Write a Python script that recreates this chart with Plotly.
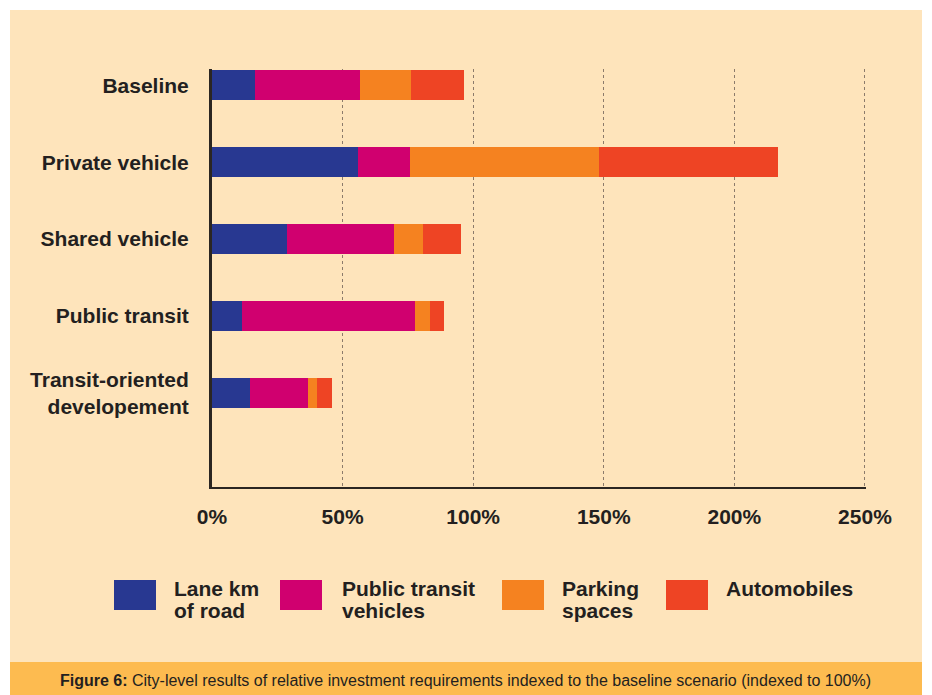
import plotly.graph_objects as go

categories = ["Baseline", "Private vehicle", "Shared vehicle", "Public transit",
              "Transit-oriented<br>developement"]
series_names = ["Lane km of road", "Public transit vehicles", "Parking spaces", "Automobiles"]
legend_lines = [["Lane km", "of road"], ["Public transit", "vehicles"],
                ["Parking", "spaces"], ["Automobiles"]]
lane_km = [16.4, 55.8, 28.7, 11.5, 14.5]
transit_vehicles = [40.1, 19.9, 40.9, 66.1, 22.2]
parking = [19.5, 72.6, 11.1, 5.7, 3.4]
automobiles = [20.3, 68.4, 14.5, 5.7, 5.7]
tick_values = [0, 50, 100, 150, 200, 250]
tick_labels = ["0%", "50%", "100%", "150%", "200%", "250%"]
caption = "<b>Figure 6:</b> City-level results of relative investment requirements indexed to the baseline scenario (indexed to 100%)"

colors = ["#283891", "#D0006F", "#F58220", "#EE4424"]
series = [lane_km, transit_vehicles, parking, automobiles]

W, H = 932, 695
L, R, T, B = 212, 866, 69, 487
FONT = "Liberation Sans, Arial, sans-serif"
TXT = "#231F20"

def px_x(p):
    return (p - L) / (R - L)

def px_y(p):
    return (B - p) / (B - T)

fig = go.Figure()
for name, vals, c in zip(series_names, series, colors):
    fig.add_trace(go.Bar(y=categories, x=vals, name=name, orientation="h",
                         marker=dict(color=c, line=dict(width=0)), width=0.39,
                         showlegend=False))

shapes = [
    dict(type="rect", xref="paper", yref="paper", x0=px_x(10), x1=px_x(922),
         y0=px_y(662), y1=px_y(10), fillcolor="#FEE4BB", line=dict(width=0), layer="below"),
    dict(type="rect", xref="paper", yref="paper", x0=px_x(10), x1=px_x(922),
         y0=px_y(696), y1=px_y(662), fillcolor="#FDBB50", line=dict(width=0), layer="below"),
]
annotations = []
swatch_x = [114, 280, 502, 666]
text_x = [172, 340, 560, 724]
for i, c in enumerate(colors):
    shapes.append(dict(type="rect", xref="paper", yref="paper",
                       x0=px_x(swatch_x[i]), x1=px_x(swatch_x[i] + 42),
                       y0=px_y(610), y1=px_y(580), fillcolor=c, line=dict(width=0)))
    for j, line in enumerate(legend_lines[i]):
        annotations.append(dict(xref="paper", yref="paper", x=px_x(text_x[i]),
                                y=px_y(588 + 22 * j), xanchor="left", yanchor="middle",
                                text=line, showarrow=False,
                                font=dict(family=FONT, size=21, color=TXT, weight="bold")))
annotations.append(dict(xref="paper", yref="paper", x=px_x(465), y=px_y(680),
                        xanchor="center", yanchor="middle", text=caption, showarrow=False,
                        font=dict(family=FONT, size=16, color=TXT)))

fig.update_layout(
    width=W, height=H, barmode="stack",
    margin=dict(l=L, r=W - R, t=T, b=H - B, pad=0),
    paper_bgcolor="white", plot_bgcolor="rgba(0,0,0,0)",
    shapes=shapes, annotations=annotations,
    xaxis=dict(range=[0, 250.4], tickvals=tick_values, ticktext=tick_labels,
               showgrid=True, gridcolor="#8C7B6B", gridwidth=1, griddash="dot",
               zeroline=False, showline=True, linecolor="#2B2622", linewidth=2,
               ticks="", ticklabelstandoff=10,
               tickfont=dict(family=FONT, size=21, color=TXT, weight="bold")),
    yaxis=dict(range=[5.22, -0.21], showgrid=False, zeroline=False,
               showline=True, linecolor="#2B2622", linewidth=3, ticks="",
               ticklabelstandoff=16,
               tickfont=dict(family=FONT, size=21, color=TXT, weight="bold")),
)
fig.write_html("out.html", config={"displayModeBar": False},
               post_script="document.body.style.margin='0';")
